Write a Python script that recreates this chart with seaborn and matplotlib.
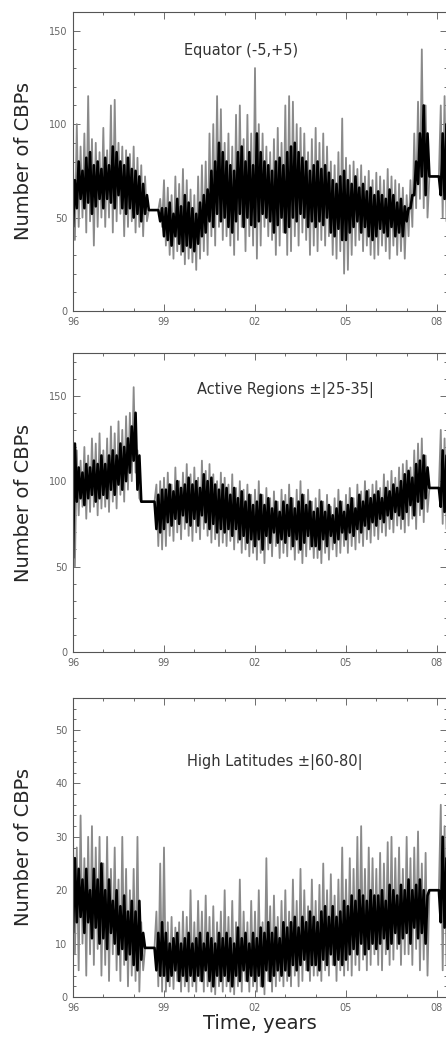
import numpy as np
import pandas as pd
import seaborn as sns
import matplotlib
matplotlib.use("Agg")
import matplotlib.pyplot as plt
from matplotlib.ticker import MultipleLocator, FixedLocator, FuncFormatter

# sample times: every 1/8 year from 1996.0 to 2008.25
years = np.arange(99) / 8.0 + 1996.0
year_ticks = [1996, 1999, 2002, 2005, 2008]

# --- Equator (-5,+5) ---
eq_spike_hi = [78, 100, 88, 95, 115, 92, 90, 85,
               98, 86, 110, 113, 90, 88, 86, 84,
               88, 82, 78, 72, 54, 54, 54, 60,
               70, 66, 62, 72, 68, 76, 70, 65,
               62, 72, 78, 80, 95, 100, 115, 108,
               90, 95, 88, 105, 110, 92, 105, 95,
               130, 100, 95, 88, 85, 92, 98, 90,
               110, 115, 112, 100, 98, 95, 85, 92,
               98, 90, 95, 88, 80, 78, 85, 103,
               82, 78, 80, 76, 78, 72, 75, 70,
               74, 72, 70, 76, 72, 70, 68, 66,
               62, 70, 95, 112, 140, 110, 72, 72,
               72, 110, 115]
eq_spike_lo = [38, 45, 50, 42, 48, 35, 45, 50,
               45, 50, 42, 48, 52, 40, 45, 48,
               42, 45, 40, 48, 54, 54, 54, 45,
               35, 30, 28, 32, 30, 25, 28, 26,
               22, 28, 32, 30, 40, 35, 45, 38,
               40, 35, 30, 38, 45, 32, 40, 35,
               28, 35, 45, 40, 38, 30, 35, 42,
               30, 32, 40, 35, 42, 38, 30, 35,
               32, 38, 35, 40, 30, 28, 32, 20,
               22, 30, 35, 38, 32, 35, 30, 28,
               30, 35, 32, 28, 35, 30, 32, 28,
               40, 45, 55, 60, 55, 50, 72, 72,
               72, 50, 48]
eq_core_hi = [70, 80, 75, 82, 85, 78, 80, 76,
              82, 78, 88, 85, 80, 78, 82, 76,
              75, 72, 68, 62, 54, 54, 54, 55,
              55, 58, 52, 60, 56, 62, 58, 55,
              52, 58, 62, 65, 75, 80, 90, 85,
              80, 78, 75, 85, 88, 80, 85, 78,
              95, 85, 80, 78, 75, 80, 82, 78,
              85, 88, 90, 85, 82, 80, 75, 78,
              80, 76, 78, 74, 70, 68, 72, 75,
              70, 68, 72, 66, 68, 64, 66, 62,
              64, 62, 60, 65, 62, 58, 60, 56,
              55, 62, 80, 95, 110, 95, 72, 72,
              72, 95, 100]
eq_core_lo = [45, 55, 60, 55, 58, 52, 56, 60,
              55, 60, 58, 55, 62, 55, 52, 55,
              50, 52, 48, 52, 54, 54, 54, 48,
              40, 38, 35, 40, 36, 32, 35, 34,
              32, 36, 40, 42, 48, 45, 52, 48,
              50, 45, 42, 48, 52, 45, 50, 46,
              45, 48, 52, 50, 48, 42, 46, 50,
              42, 45, 50, 48, 52, 50, 45, 48,
              45, 48, 46, 50, 42, 40, 44, 38,
              38, 42, 45, 48, 42, 45, 40, 38,
              40, 44, 42, 40, 45, 40, 42, 40,
              48, 55, 62, 68, 72, 62, 72, 72,
              72, 62, 60]

# --- Active Regions +-(25-35) ---
ar_spike_hi = [125, 118, 112, 120, 115, 125, 122, 128,
               118, 125, 132, 128, 135, 130, 138, 140,
               155, 118, 88, 88, 88, 88, 98, 100,
               102, 105, 98, 108, 100, 105, 110, 104,
               108, 102, 112, 106, 110, 104, 100, 105,
               102, 98, 104, 96, 100, 95, 98, 92,
               95, 100, 92, 96, 90, 94, 88, 95,
               92, 98, 90, 95, 100, 92, 95, 88,
               90, 95, 88, 92, 85, 90, 95, 88,
               92, 96, 90, 98, 94, 100, 95, 98,
               100, 96, 104, 100, 106, 102, 108, 110,
               112, 108, 118, 122, 125, 115, 96, 96,
               96, 130, 125]
ar_spike_lo = [50, 80, 85, 78, 82, 85, 80, 84,
               85, 82, 88, 84, 92, 88, 95, 100,
               105, 90, 88, 88, 88, 88, 62, 60,
               62, 68, 65, 70, 66, 72, 68, 65,
               70, 66, 72, 68, 64, 66, 62, 64,
               62, 65, 60, 64, 58, 60, 56, 58,
               54, 58, 52, 60, 56, 62, 55, 58,
               56, 60, 54, 58, 52, 56, 60, 55,
               55, 52, 58, 54, 60, 56, 58, 62,
               58, 62, 60, 64, 62, 66, 64, 68,
               66, 70, 68, 72, 70, 74, 72, 70,
               74, 78, 72, 80, 76, 82, 96, 96,
               96, 75, 72]
ar_core_hi = [122, 108, 105, 110, 108, 112, 110, 115,
              110, 115, 118, 115, 122, 120, 125, 132,
              140, 115, 88, 88, 88, 88, 92, 95,
              95, 98, 94, 100, 96, 98, 102, 98,
              100, 96, 104, 100, 102, 98, 95, 98,
              96, 92, 96, 90, 94, 88, 92, 86,
              88, 92, 86, 90, 84, 88, 82, 88,
              86, 90, 84, 88, 92, 86, 88, 82,
              84, 88, 82, 86, 80, 84, 88, 82,
              86, 90, 84, 92, 88, 94, 90, 92,
              94, 90, 96, 94, 98, 96, 100, 104,
              106, 102, 110, 112, 115, 108, 96, 96,
              96, 118, 115]
ar_core_lo = [55, 88, 90, 86, 90, 92, 88, 90,
              92, 90, 95, 92, 98, 95, 100, 105,
              112, 95, 88, 88, 88, 88, 72, 70,
              72, 76, 74, 78, 75, 80, 76, 74,
              78, 74, 80, 76, 72, 75, 70, 72,
              70, 72, 68, 72, 66, 68, 64, 66,
              62, 66, 60, 68, 64, 70, 64, 66,
              64, 68, 62, 66, 60, 64, 68, 62,
              62, 60, 66, 62, 68, 64, 66, 70,
              66, 70, 68, 72, 70, 74, 72, 76,
              74, 78, 76, 80, 78, 82, 80, 78,
              82, 86, 80, 88, 84, 90, 96, 96,
              96, 85, 82]

# --- High Latitudes +-(60-80) ---
hl_spike_hi = [30, 28, 34, 26, 30, 32, 28, 30,
               25, 30, 24, 28, 22, 30, 24, 20,
               24, 30, 14, 9.2, 9.2, 9.2, 16, 25,
               28, 14, 15, 13, 14, 16, 15, 20,
               14, 18, 16, 19, 15, 17, 14, 16,
               20, 15, 18, 14, 22, 16, 14, 18,
               16, 20, 14, 26, 17, 19, 15, 18,
               20, 16, 22, 18, 24, 20, 17, 22,
               18, 21, 25, 20, 23, 19, 22, 28,
               22, 26, 24, 30, 32, 24, 28, 26,
               24, 27, 25, 29, 30, 26, 28, 24,
               30, 26, 28, 31, 25, 27, 20, 20,
               20, 36, 32]
hl_spike_lo = [8, 5, 10, 4, 8, 6, 9, 4,
               6, 3, 8, 5, 3, 6, 2, 4,
               3, 1, 5, 9.2, 9.2, 9.2, 2, 1,
               1, 2, 1.5, 3, 1, 2, 1, 2,
               1, 3, 1, 2, 1, 0.5, 2, 1,
               2, 1, 0.5, 2, 1, 3, 1, 2,
               1, 2, 0.5, 3, 1, 2, 3, 2,
               3, 2, 4, 2, 3, 5, 3, 4,
               4, 3, 5, 4, 6, 3, 5, 4,
               5, 4, 6, 5, 7, 5, 6, 8,
               6, 5, 8, 6, 7, 9, 6, 8,
               8, 6, 9, 5, 7, 4, 20, 20,
               20, 5, 6]
hl_core_hi = [26, 24, 22, 24, 20, 24, 22, 25,
              20, 22, 18, 20, 17, 19, 16, 18,
              16, 18, 12, 9.2, 9.2, 9.2, 12, 14,
              12, 10, 11, 12, 10, 11, 12, 10,
              11, 12, 10, 12, 11, 10, 12, 11,
              12, 11, 10, 13, 11, 12, 10, 12,
              11, 13, 12, 14, 12, 13, 11, 14,
              13, 14, 15, 13, 15, 14, 16, 15,
              14, 16, 17, 15, 17, 15, 16, 18,
              17, 19, 18, 20, 19, 18, 20, 19,
              19, 20, 18, 21, 20, 19, 21, 20,
              22, 20, 21, 22, 20, 19, 20, 20,
              20, 30, 26]
hl_core_lo = [12, 14, 15, 12, 14, 11, 13, 10,
              11, 9, 12, 10, 8, 9, 7, 8,
              6, 5, 7, 9.2, 9.2, 9.2, 5, 4,
              4, 3, 4, 5, 3, 4, 3, 4,
              3, 4, 3, 5, 3, 2, 4, 3,
              4, 3, 2, 4, 3, 5, 3, 4,
              3, 4, 2, 5, 3, 4, 5, 4,
              5, 4, 6, 5, 6, 7, 5, 6,
              6, 5, 7, 6, 8, 6, 7, 6,
              7, 8, 9, 8, 10, 8, 9, 10,
              9, 10, 11, 9, 10, 12, 10, 11,
              12, 10, 13, 11, 12, 10, 20, 20,
              20, 14, 13]

titles = ["Equator (-5,+5)", "Active Regions \u00b1|25-35|", "High Latitudes \u00b1|60-80|"]
ymax = [160, 175, 56]
yminor = [10, 10, 2]
ymajor = [50, 50, 10]


def zigzag(t, first, second):
    # alternate two envelopes within each 1/8 year sample
    x = np.column_stack([t, t + 0.0625]).ravel()
    y = np.column_stack([np.asarray(first, float), np.asarray(second, float)]).ravel()
    return pd.DataFrame({"year": x, "n": y})


sns.set_style("ticks")
plt.rcParams["font.family"] = ["DejaVu Sans"]

W, H = 446, 1043
fig = plt.figure(figsize=(W / 100, H / 100), dpi=100)

panels = [
    (eq_spike_hi, eq_spike_lo, eq_core_hi, eq_core_lo),
    (ar_spike_hi, ar_spike_lo, ar_core_hi, ar_core_lo),
    (hl_spike_hi, hl_spike_lo, hl_core_hi, hl_core_lo),
]
tops = [12, 353, 698]
title_pos = [(241, 50), (285, 390), (275, 762)]
x0, x1 = 73, 447
ph = 299

for i, (shi, slo, chi, clo) in enumerate(panels):
    ax = fig.add_axes([x0 / W, 1 - (tops[i] + ph) / H, (x1 - x0) / W, ph / H])
    sns.lineplot(data=zigzag(years, shi, slo), x="year", y="n", sort=False,
                 estimator=None, color="#8a8a8a", lw=1.3, ax=ax)
    sns.lineplot(data=zigzag(years, clo, chi), x="year", y="n", sort=False,
                 estimator=None, color="black", lw=1.9, ax=ax)
    ax.set_xlim(1996, 2008.33)
    ax.set_ylim(0, ymax[i])
    ax.xaxis.set_major_locator(FixedLocator(year_ticks))
    ax.xaxis.set_minor_locator(MultipleLocator(1))
    ax.yaxis.set_major_locator(MultipleLocator(ymajor[i]))
    ax.yaxis.set_minor_locator(MultipleLocator(yminor[i]))
    ax.xaxis.set_major_formatter(FuncFormatter(lambda v, p: f"{int(round(v)) % 100:02d}"))
    ax.tick_params(which="both", direction="in", top=True, right=True,
                   width=0.6, color="#555555", labelsize=7, labelcolor="#666666")
    ax.tick_params(which="major", length=5, pad=4)
    ax.tick_params(which="minor", length=2.5)
    for s in ax.spines.values():
        s.set_color("#555555")
        s.set_linewidth(0.8)
    ax.set_ylabel("Number of CBPs", fontsize=14)
    ax.yaxis.set_label_coords(-(x0 - 33) / (x1 - x0), 0.5)
    if i == 2:
        ax.set_xlabel("Time, years", fontsize=14, labelpad=1)
    else:
        ax.set_xlabel("")
    tx, ty = title_pos[i]
    fig.text(tx / W, 1 - ty / H, titles[i], ha="center", va="center",
             fontsize=10.5, color="#333333")

fig.savefig("out.png", dpi=100)
